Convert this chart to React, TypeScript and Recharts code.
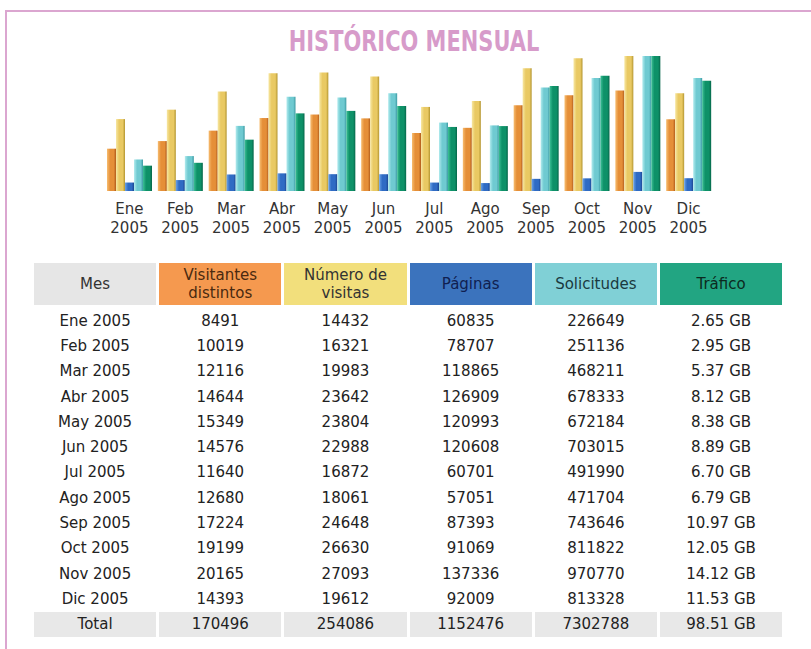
import React from 'react';
import { BarChart, Bar, XAxis, YAxis } from 'recharts';

const months = ['Ene', 'Feb', 'Mar', 'Abr', 'May', 'Jun', 'Jul', 'Ago', 'Sep', 'Oct', 'Nov', 'Dic'];
const year = '2005';
const visitors = [8491, 10019, 12116, 14644, 15349, 14576, 11640, 12680, 17224, 19199, 20165, 14393];
const visits = [14432, 16321, 19983, 23642, 23804, 22988, 16872, 18061, 24648, 26630, 27093, 19612];
const pages = [60835, 78707, 118865, 126909, 120993, 120608, 60701, 57051, 87393, 91069, 137336, 92009];
const hits = [226649, 251136, 468211, 678333, 672184, 703015, 491990, 471704, 743646, 811822, 970770, 813328];
const trafficGB = [2.65, 2.95, 5.37, 8.12, 8.38, 8.89, 6.7, 6.79, 10.97, 12.05, 14.12, 11.53];
const totals = ['170496', '254086', '1152476', '7302788', '98.51 GB'];

const headers = ['Mes', 'Visitantes distintos', 'Número de visitas', 'Páginas', 'Solicitudes', 'Tráfico'];
const headerBg = ['#e6e6e6', '#f5994f', '#f2df7c', '#3b73bd', '#80d0d6', '#22a582'];
const headerFg = ['#333', '#4a2a10', '#333', '#102050', '#1a3a40', '#0c2a20'];

// gradient stops: light left edge, main body, dark right edge
const barColors: Record<string, [string, string, string]> = {
    visitors: ['#f7bd70', '#e58f38', '#b05a1a'],
    visits: ['#f7e7a2', '#e9c963', '#b39530'],
    pages: ['#6aa2e6', '#2f6bc4', '#1b4590'],
    hits: ['#b2ebee', '#6fcad1', '#3c9aa2'],
    traffic: ['#3cc096', '#0e9168', '#06664a'],
};

const data = months.map((m, i) => ({
    month: m,
    visitors: visitors[i],
    visits: visits[i],
    pages: pages[i],
    hits: hits[i],
    traffic: trafficGB[i],
}));

const FONT = '"DejaVu Sans", Verdana, sans-serif';

const MonthTick = (props: any) => {
    const { x, y, payload } = props;
    return (
        <text x={x} y={y} textAnchor="middle" fill="#333" fontSize={15} fontFamily={FONT}>
            <tspan x={x} dy={23}>{payload.value}</tspan>
            <tspan x={x} dy={19}>{year}</tspan>
        </text>
    );
};

const App = () => {
    const rows = months.map((m, i) => [
        `${m} ${year}`,
        String(visitors[i]),
        String(visits[i]),
        String(pages[i]),
        String(hits[i]),
        `${trafficGB[i].toFixed(2)} GB`,
    ]);

    return (
        <div style={{ position: 'absolute', left: 0, top: 0, width: 811, height: 649, overflow: 'hidden', background: '#fff', fontFamily: FONT }}>
            <div style={{ position: 'absolute', left: 5, top: 10, width: 900, height: 800, border: '2px solid #dba6d0' }} />
            <div style={{
                position: 'absolute', left: 0, width: 828, top: 25, textAlign: 'center',
                fontFamily: '"DejaVu Sans Condensed", "DejaVu Sans", sans-serif', fontWeight: 'bold',
                fontSize: 24, color: '#d79bca', transform: 'scale(0.97, 1.18)', transformOrigin: '50% 0',
            }}>
                HISTÓRICO MENSUAL
            </div>
            <div style={{ position: 'absolute', left: 0, top: 0 }}>
                <BarChart
                    width={811}
                    height={250}
                    data={data}
                    margin={{ top: 56, right: 97, left: 104, bottom: 9 }}
                    barSize={9}
                    barGap={0}
                >
                    <defs>
                        {Object.entries(barColors).map(([k, c]) => (
                            <linearGradient key={k} id={`g-${k}`} x1="0" y1="0" x2="1" y2="0">
                                <stop offset="0%" stopColor={c[0]} />
                                <stop offset="35%" stopColor={c[1]} />
                                <stop offset="75%" stopColor={c[1]} />
                                <stop offset="100%" stopColor={c[2]} />
                            </linearGradient>
                        ))}
                    </defs>
                    <XAxis dataKey="month" axisLine={false} tickLine={false} tickSize={0} tickMargin={0} height={50} interval={0} tick={<MonthTick />} />
                    <YAxis yAxisId="v" hide domain={[0, 'dataMax']} />
                    <YAxis yAxisId="p" hide domain={[0, 'dataMax']} />
                    <YAxis yAxisId="b" hide domain={[0, 'dataMax']} />
                    <Bar yAxisId="v" dataKey="visitors" fill="url(#g-visitors)" isAnimationActive={false} />
                    <Bar yAxisId="v" dataKey="visits" fill="url(#g-visits)" isAnimationActive={false} />
                    <Bar yAxisId="p" dataKey="pages" fill="url(#g-pages)" isAnimationActive={false} />
                    <Bar yAxisId="p" dataKey="hits" fill="url(#g-hits)" isAnimationActive={false} />
                    <Bar yAxisId="b" dataKey="traffic" fill="url(#g-traffic)" isAnimationActive={false} />
                </BarChart>
            </div>
            <div style={{
                position: 'absolute', left: 34, top: 263, display: 'grid',
                gridTemplateColumns: 'repeat(6, 122.2px)', columnGap: 3,
                gridTemplateRows: '42px 3px repeat(13, 25.3px)', fontSize: 15, color: '#222',
            }}>
                {headers.map((h, i) => (
                    <div key={h} style={{
                        background: headerBg[i], color: headerFg[i], display: 'flex', alignItems: 'center',
                        justifyContent: 'center', textAlign: 'center', lineHeight: '18px', padding: '0 6px',
                    }}>{h}</div>
                ))}
                {headers.map((h) => <div key={`sp-${h}`} />)}
                {rows.map((r, ri) => r.map((v, ci) => (
                    <div key={`${ri}-${ci}`} style={{ display: 'flex', alignItems: 'center', justifyContent: 'center' }}>{v}</div>
                )))}
                {['Total', ...totals].map((v, ci) => (
                    <div key={`t-${ci}`} style={{ display: 'flex', alignItems: 'center', justifyContent: 'center', background: '#e8e8e8' }}>{v}</div>
                ))}
            </div>
        </div>
    );
};

export default App;
